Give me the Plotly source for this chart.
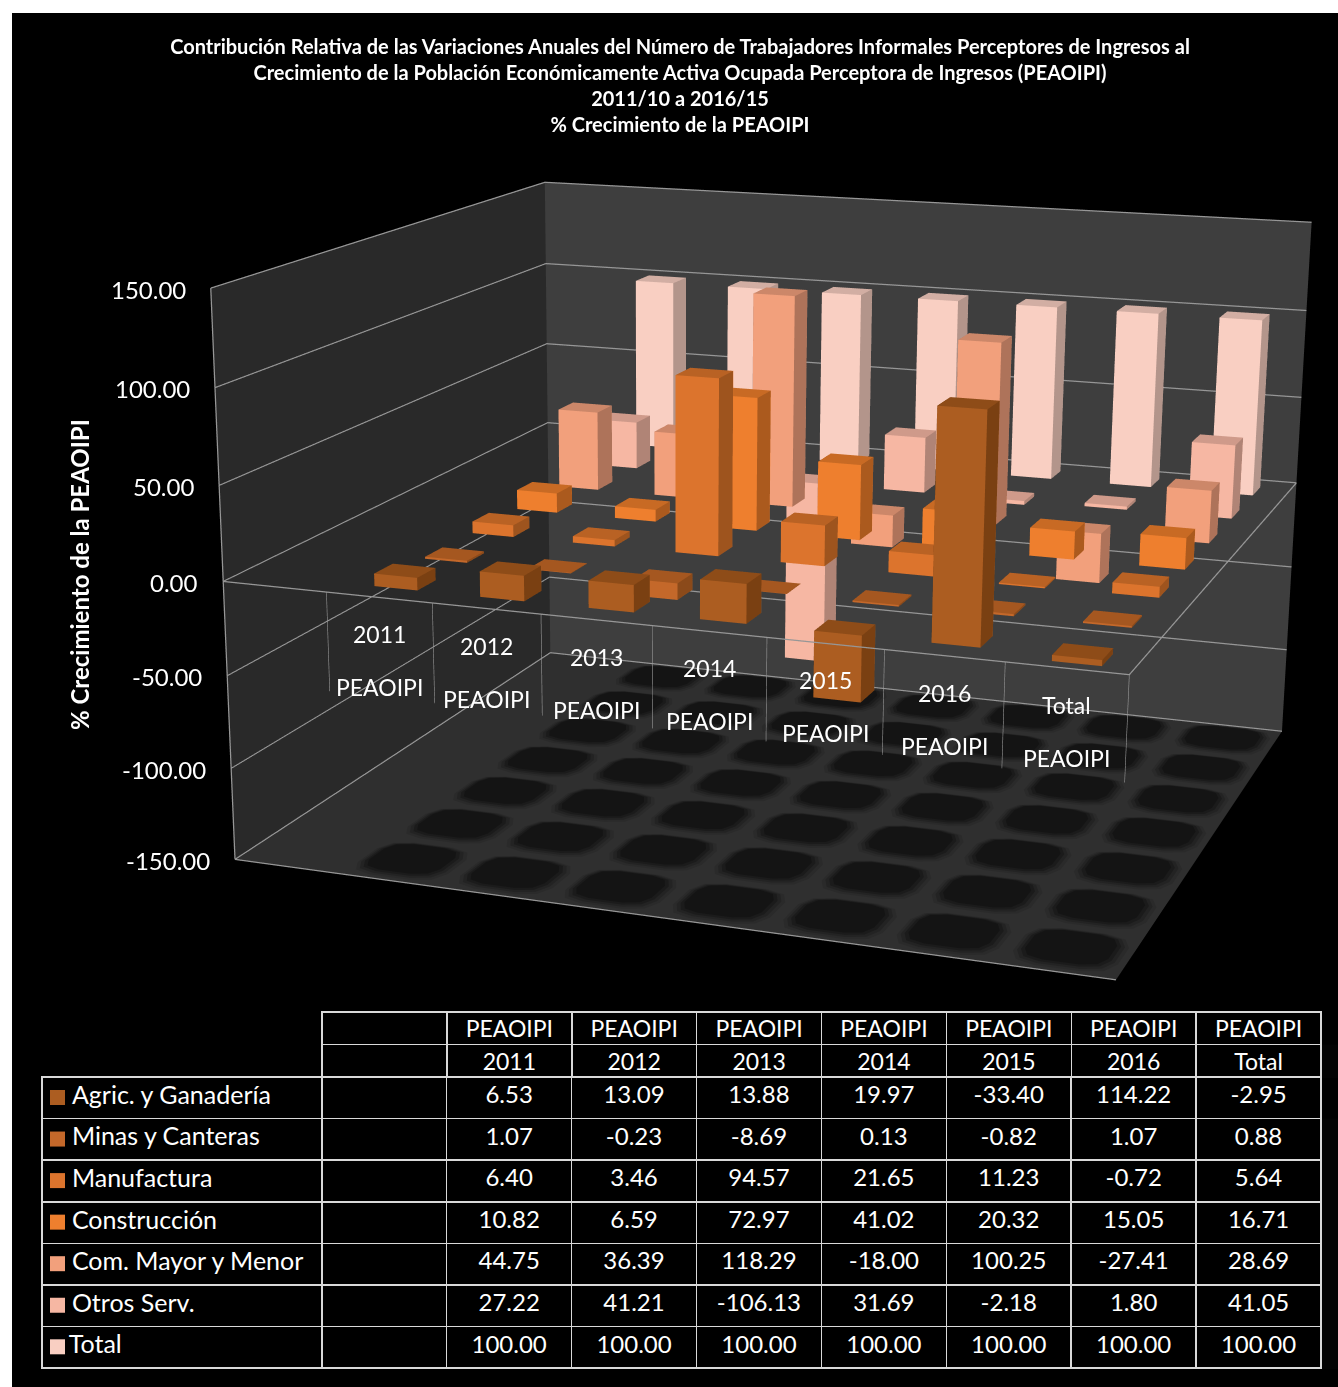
import plotly.graph_objects as go

W, H = 1338, 1387

years = ["", "2011", "2012", "2013", "2014", "2015", "2016", "Total"]
group = "PEAOIPI"
series = ["Agric. y Ganadería", "Minas y Canteras", "Manufactura", "Construcción",
          "Com. Mayor y Menor", "Otros Serv.", "Total"]
agric = [None, 6.53, 13.09, 13.88, 19.97, -33.40, 114.22, -2.95]
minas = [None, 1.07, -0.23, -8.69, 0.13, -0.82, 1.07, 0.88]
manuf = [None, 6.40, 3.46, 94.57, 21.65, 11.23, -0.72, 5.64]
constr = [None, 10.82, 6.59, 72.97, 41.02, 20.32, 15.05, 16.71]
comercio = [None, 44.75, 36.39, 118.29, -18.00, 100.25, -27.41, 28.69]
otros = [None, 27.22, 41.21, -106.13, 31.69, -2.18, 1.80, 41.05]
total = [None, 100.00, 100.00, 100.00, 100.00, 100.00, 100.00, 100.00]
values = [agric, minas, manuf, constr, comercio, otros, total]
ztick_vals = [-150, -100, -50, 0, 50, 100, 150]
ztick_text = ["-150.00", "-100.00", "-50.00", "0.00", "50.00", "100.00", "150.00"]

front = ["#ac5d21", "#c4682a", "#dc742d", "#ee7f2e", "#f2a07c", "#f6b7a3", "#f9cfc2"]
top = ["#8e4c18", "#a55720", "#b96224", "#c86a24", "#cc8769", "#cf9a8a", "#d2aea3"]
side = ["#7a4012", "#8b4a1a", "#9e541e", "#ab5a1e", "#ae735a", "#b08476", "#b3958b"]

TITLE = ("<b>Contribución Relativa de las Variaciones Anuales del Número de Trabajadores Informales Perceptores de Ingresos al</b><br>"
         "<b>Crecimiento de la Población Económicamente Activa Ocupada Perceptora de Ingresos (PEAOIPI)</b><br>"
         "<b>2011/10 a 2016/15</b><br><b>% Crecimiento de la PEAOIPI</b>")
FONT = "Lato"


def px(x):
    return x / W


def py(y):
    return 1 - y / H


fig = go.Figure()
MATTE = dict(ambient=1, diffuse=0, specular=0, roughness=1, fresnel=0)


def add_cells(size, z, color):
    xs, ys, zs, ii, jj, kk = [], [], [], [], [], []
    for a in range(1, len(years)):
        for b in range(len(series)):
            cx, cy = a + 0.5, b + 0.5
            r, c = size / 2, size * 0.28
            k = c * 0.29
            ring = [(r - c, -r), (r - k, -r + k), (r, -r + c), (r, r - c), (r - k, r - k), (r - c, r),
                    (-r + c, r), (-r + k, r - k), (-r, r - c), (-r, -r + c), (-r + k, -r + k), (-r + c, -r)]
            n = len(xs)
            for dx, dy in ring:
                xs.append(cx + dx)
                ys.append(cy + dy)
                zs.append(z)
            for t in range(1, len(ring) - 1):
                ii.append(n)
                jj.append(n + t)
                kk.append(n + t + 1)
    fig.add_trace(go.Mesh3d(x=xs, y=ys, z=zs, i=ii, j=jj, k=kk, color=color, flatshading=True,
                            lighting=MATTE, hoverinfo="skip", showlegend=False))


add_cells(0.88, -149.6, "#2a2a2a")
add_cells(0.82, -149.2, "#232323")
add_cells(0.76, -148.8, "#1b1b1b")
add_cells(0.70, -148.4, "#141414")

BWX, BWY = 0.41, 0.36
for s, vals in enumerate(values):
    xs, ys, zs, ii, jj, kk, fc = [], [], [], [], [], [], []
    for c, v in enumerate(vals):
        if v is None:
            continue
        x0, x1 = c + 0.5 - BWX / 2, c + 0.5 + BWX / 2
        y0, y1 = s + 0.5 - BWY / 2, s + 0.5 + BWY / 2
        z0, z1 = min(0, v), max(0, v)
        n = len(xs)
        for zz in (z0, z1):
            for xx, yy in ((x0, y0), (x1, y0), (x1, y1), (x0, y1)):
                xs.append(xx)
                ys.append(yy)
                zs.append(zz)
        quads = [((0, 1, 5, 4), front[s]), ((1, 2, 6, 5), side[s]), ((4, 5, 6, 7), top[s]),
                 ((3, 0, 4, 7), side[s]), ((2, 3, 7, 6), front[s]), ((0, 1, 2, 3), top[s])]
        for (a, b, cc, d), col in quads:
            ii += [n + a, n + a]
            jj += [n + b, n + cc]
            kk += [n + cc, n + d]
            fc += [col, col]
    fig.add_trace(go.Mesh3d(x=xs, y=ys, z=zs, i=ii, j=jj, k=kk, facecolor=fc, flatshading=True,
                            lighting=MATTE, name=series[s], hoverinfo="skip", showlegend=False))

nx, ny = len(years), len(series)
edges = [((0, 0, -150), (0, 0, 150)), ((0, 0, 150), (0, ny, 150)), ((0, ny, 150), (nx, ny, 150)),
         ((0, 0, -150), (nx, 0, -150)), ((0, 0, -150), (0, ny, -150)),
         ((0, 0, 0), (nx, 0, 0)), ((nx, 0, 0), (nx, ny, 0))]
ex, ey, ez = [], [], []
for p, q in edges:
    ex += [p[0], q[0], None]
    ey += [p[1], q[1], None]
    ez += [p[2], q[2], None]
fig.add_trace(go.Scatter3d(x=ex, y=ey, z=ez, mode="lines", line=dict(color="#969696", width=2.5),
                           hoverinfo="skip", showlegend=False))
tx, ty, tz = [], [], []
for k in range(1, nx + 1):
    tx += [k, k, None]
    ty += [0, 0, None]
    tz += [0, -52, None]
fig.add_trace(go.Scatter3d(x=tx, y=ty, z=tz, mode="lines", line=dict(color="#969696", width=1.2),
                           hoverinfo="skip", showlegend=False))

annos = []
for v, t in zip(ztick_vals, ztick_text):
    annos.append(dict(x=0, y=0, z=v, text=t, showarrow=False, xanchor="right", yanchor="middle", xshift=-23, yshift=-1,
                      font=dict(family=FONT, size=24, color="white")))
for c, yr in enumerate(years):
    if yr:
        annos.append(dict(x=c + 0.5, y=0, z=0, text=yr, showarrow=False, yshift=-37, font=dict(family=FONT, size=23, color="white")))
        annos.append(dict(x=c + 0.5, y=0, z=0, text=group, showarrow=False, yshift=-90, font=dict(family=FONT, size=23, color="white")))

axis_common = dict(showgrid=False, zeroline=False, showline=False, showticklabels=False, ticks="",
                   showspikes=False, title=dict(text=""), showbackground=True)

# data table
LINE = dict(color="#d9d9d9", width=1.5)
TFONT = dict(family=FONT, size=23, color="white")
fig.add_trace(go.Table(
    domain=dict(x=[px(322), px(1321)], y=[py(1078), py(1012)]),
    columnwidth=[125] * 8,
    header=dict(values=[""] + [group] * 7, height=32.5, align="center", line=LINE, fill=dict(color="black"), font=TFONT),
    cells=dict(values=[[y] for y in years], height=32.5, align="center", line=LINE, fill=dict(color="black"), font=TFONT)))

labels = ["\u2003\u2009" + n for n in series[:-1]] + ["\u2003" + series[-1]]
rows_text = [labels[1:], [""] * 6] + [[f"{values[s][c]:.2f}" for s in range(1, 7)] for c in range(1, 8)]
head_text = [labels[0], ""] + [f"{values[0][c]:.2f}" for c in range(1, 8)]
LFONT = dict(family=FONT, size=[25] + [24] * 8, color="white")
fig.add_trace(go.Table(
    domain=dict(x=[px(42), px(1321)], y=[py(1369), py(1077)]),
    columnwidth=[280, 125] + [125] * 7,
    header=dict(values=head_text, height=41.6, align=["left"] + ["center"] * 8, line=LINE, fill=dict(color="black"), font=LFONT),
    cells=dict(values=rows_text, height=41.6, align=["left"] + ["center"] * 8, line=LINE, fill=dict(color="black"), font=LFONT)))

shapes = [dict(type="rect", xref="paper", yref="paper", x0=0, x1=px(12), y0=0, y1=1, fillcolor="white", line_width=0, layer="above"),
          dict(type="rect", xref="paper", yref="paper", x0=0, x1=1, y0=py(13), y1=1, fillcolor="white", line_width=0, layer="above")]
for r, col in enumerate(front):
    yc = 1097.5 + r * 41.55
    shapes.append(dict(type="rect", xref="paper", yref="paper", x0=px(50), x1=px(65), y0=py(yc + 7.5), y1=py(yc - 7.5),
                       fillcolor=col, line_width=0, layer="above"))

fig.update_layout(
    width=W, height=H, margin=dict(l=0, r=0, t=0, b=0), paper_bgcolor="black", plot_bgcolor="black",
    showlegend=False,
    title=dict(text=TITLE, x=px(680), xref="paper", xanchor="center", y=py(53.5), yref="paper", yanchor="top",
               font=dict(family=FONT, size=20, color="white")),
    annotations=[dict(text="<b>% Crecimiento de la PEAOIPI</b>", x=px(79), y=py(575), xref="paper", yref="paper",
                      xanchor="center", yanchor="middle", textangle=-90, showarrow=False,
                      font=dict(family=FONT, size=24, color="white"))],
    shapes=shapes,
    scene=dict(
        domain=dict(x=[px(8), 1], y=[0, py(9)]),
        xaxis=dict(range=[0, nx], backgroundcolor="#292929", **axis_common),
        yaxis=dict(range=[0, ny], backgroundcolor="#3e3e3e", **axis_common),
        zaxis=dict(range=[-150, 150], tickvals=ztick_vals, backgroundcolor="#2f2f2f", showgrid=True, gridcolor="#969696", gridwidth=2.5,
                   zeroline=False, showline=False, showticklabels=False, ticks="", showspikes=False, title=dict(text=""), showbackground=True),
        aspectmode="manual", aspectratio=dict(x=1, y=0.8942, z=0.6399),
        camera=dict(eye=dict(x=1.1483, y=-3.3805, z=0.8746), center=dict(x=-0.084, y=-0.1692, z=-0.1655), up=dict(x=0.0041, y=-0.0026, z=1)),
        bgcolor="rgba(0,0,0,0)",
        annotations=annos,
    ))

POST = """
document.body.style.margin='0';
var gd=document.getElementById('{plot_id}');
var s=gd._fullLayout.scene._scene;
s.glplot.fovy=2*Math.atan(0.21729);
s.glplot.redraw();
"""
fig.write_html("out.html", post_script=POST, config=dict(displayModeBar=False))
